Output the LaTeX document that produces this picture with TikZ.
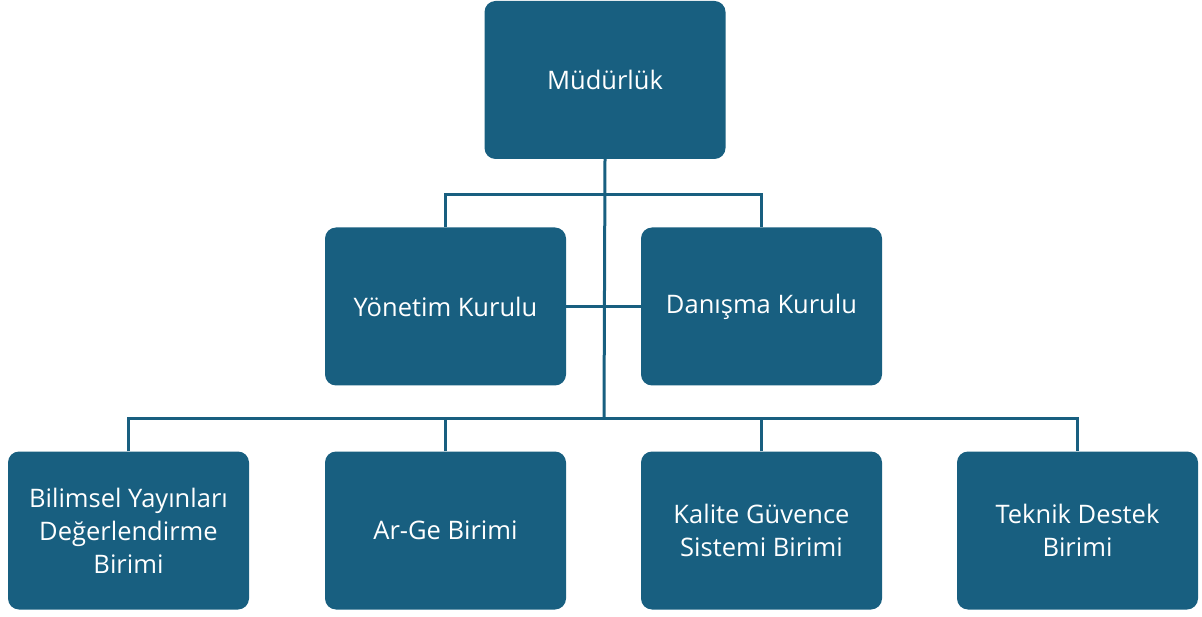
\documentclass[tikz,border=0pt]{standalone}
\usepackage{fontspec}
\setmainfont{Open Sans}
\definecolor{kutu}{HTML}{185F80}
\tikzset{
  birim/.style={fill=kutu, text=white, rounded corners=11pt, minimum width=241pt,
    minimum height=158pt, inner sep=0pt, align=center, font=\fontsize{25.5}{33}\selectfont},
  hat/.style={draw=kutu, line width=3pt}
}
\begin{document}
\begin{tikzpicture}[x=1pt, y=-1pt]
\useasboundingbox (0,0) rectangle (1202,617);

% ust kademe
\node[birim] (mudurluk) at (605,80) {Müdürlük};
\node[birim] (yonetim) at (445.5,306.5) {Yönetim Kurulu};
\node[birim] (danisma) at (761.5,306.5) {Danışma Kurulu};

% alt kademe
\node[birim] (b1) at (128.5,530.5) {Bilimsel Yayınları\\Değerlendirme\\Birimi};
\node[birim] (b2) at (445.5,530.5) {Ar-Ge Birimi};
\node[birim] (b3) at (761.5,530.5) {Kalite Güvence\\Sistemi Birimi};
\node[birim] (b4) at (1077.5,530.5) {Teknik Destek\\Birimi};

\coordinate (govde) at (604,418);

\draw[hat] (mudurluk.south) -- (govde);
\draw[hat] (yonetim.north) -- ++(0,-33) -| (danisma.north);
\draw[hat] (yonetim.east) -- (danisma.west);
\draw[hat] (b1.north) -- ++(0,-33) -| (b4.north);
\foreach \i in {2,3} {\draw[hat] (b\i.north) -- (b\i.north |- govde);}

\end{tikzpicture}
\end{document}
